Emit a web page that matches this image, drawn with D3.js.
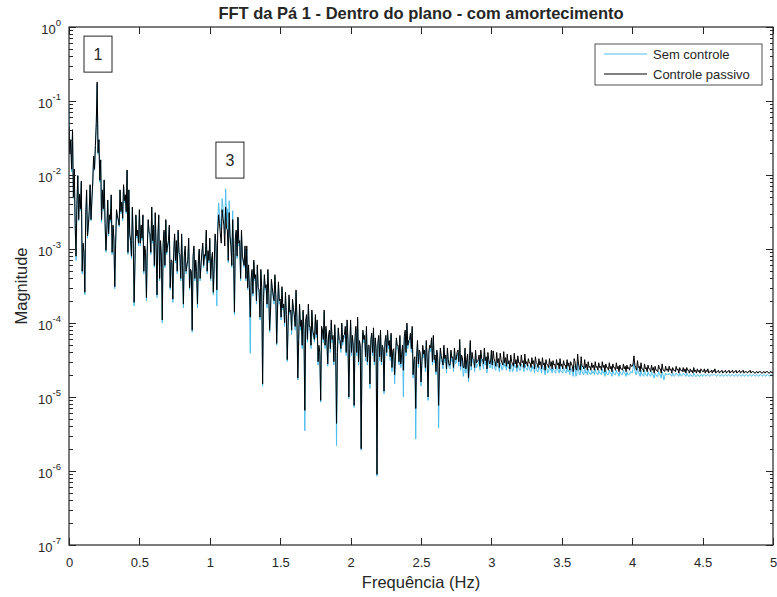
<!DOCTYPE html>
<html>
<head>
<meta charset="utf-8">
<script src="https://cdn.jsdelivr.net/npm/d3@7/dist/d3.min.js"></script>
<style>
body{margin:0;background:#fff;}
text{font-family:"Liberation Sans",Arial,sans-serif;fill:#262626;}
.axis path{display:none;}
.axis line{stroke:#262626;shape-rendering:crispEdges;}
</style>
</head>
<body>
<div id="content"></div>
<script>
//data
var freqStep = 0.0125; // Hz between the bins below, bin 0 = 0 Hz
// *Meio arrays hold the bins that sit half a step after each of those

var semControle = [
0.09,3e-2,4e-2,1.2e-2,7e-4,9.8e-3,5.5e-3,8e-3,1.1e-3,2.4e-4,6e-3,2e-3,7.2e-3,4.5e-3,1.8e-2,2.5e-2,1.7e-1,3e-2,1.6e-2,6e-3,8.5e-3,
9e-4,4.5e-3,2.8e-3,5.3e-3,2e-3,2.9e-4,3.3e-3,2.4e-3,6.2e-3,4.2e-3,7.3e-3,5.3e-3,1.15e-2,6.2e-3,1.2e-3,3.6e-3,1.7e-4,2.8e-3,1.7e-3,3.3e-3,
2e-3,2.8e-3,1e-3,2e-4,2.4e-3,1.5e-3,3.6e-3,2e-3,3e-3,2.2e-4,2.8e-3,1.2e-3,1e-4,1.7e-3,2.4e-3,1e-3,2e-3,6.5e-4,1.9e-4,1.5e-3,
1.2e-3,1.7e-3,7.8e-4,1.5e-3,1.6e-4,1e-3,5.7e-4,1.3e-3,5e-4,7.5e-5,1e-3,6.6e-4,1.6e-4,9.5e-4,5.7e-4,1.1e-3,8e-4,1.7e-3,9e-4,1.3e-3,
6.8e-4,2.4e-4,1.5e-3,1.7e-4,4.2e-3,2.2e-3,4.8e-3,3e-3,6.5e-3,3.5e-3,4.5e-3,1.4e-3,3.3e-3,1.3e-4,1.7e-3,2.6e-3,1.2e-3,1.7e-3,6.6e-4,1e-3,
1e-3,5.7e-4,3.9e-5,5e-4,6.6e-4,4.2e-4,5.7e-4,2.6e-4,5e-4,1.4e-5,4.2e-4,3.1e-4,5e-4,7.5e-5,3.6e-4,2.2e-4,4.2e-4,5e-5,3.4e-4,1.9e-4,
2.9e-4,1.7e-4,2.4e-4,3e-5,2.2e-4,1.4e-4,1.9e-4,1.2e-4,2.6e-4,1.7e-5,1.7e-4,1e-4,1.4e-4,3.5e-6,1.2e-4,1.7e-4,8.3e-5,1.4e-4,6.3e-5,1.2e-4,
1e-4,4.6e-5,8.5e-6,7.4e-5,1.4e-4,8.3e-5,2.6e-5,7.4e-5,1e-4,6.3e-5,8.8e-5,2.2e-6,8e-5,5.4e-5,9.3e-5,6.3e-5,8.3e-5,1e-4,9.5e-6,1e-4,
6.3e-5,7.2e-6,8.3e-5,1.1e-4,5.4e-5,1.9e-6,7.4e-5,6.3e-5,8.3e-5,4.6e-5,1.3e-5,6.8e-5,8e-5,5.8e-5,8.5e-7,6.3e-5,7.4e-5,4.6e-5,1.1e-5,6.3e-5,
7.4e-5,5.4e-5,6.8e-5,4e-5,1.5e-5,5.8e-5,4.6e-5,6.3e-5,3.4e-5,1e-5,7.4e-5,9.3e-5,5.4e-5,6.8e-5,8.3e-5,3e-5,2.7e-6,5.4e-5,4e-5,1.4e-5,
4.6e-5,4e-5,5.4e-5,9e-6,4.6e-5,5.8e-5,6.3e-5,3.4e-5,4e-5,3.8e-6,4.2e-5,2.9e-5,4.6e-5,3.4e-5,4.2e-5,2.5e-5,4e-5,3.2e-5,4.2e-5,2.9e-5,
3.9e-5,5.5e-5,3.4e-5,1.9e-5,4.2e-5,2.9e-5,1.6e-5,5.3e-5,3.6e-5,2.9e-5,3.9e-5,2.7e-5,3.3e-5,3.8e-5,2.8e-5,4e-5,3.1e-5,3.5e-5,2.5e-5,3.8e-5,
3.1e-5,2.4e-5,3.2e-5,2.6e-5,2.9e-5,2.3e-5,3.1e-5,2.7e-5,3e-5,2.5e-5,2.8e-5,2.2e-5,2.9e-5,2.6e-5,2.7e-5,2.3e-5,2.8e-5,2.5e-5,2.9e-5,2.4e-5,
2.7e-5,2.3e-5,2.7e-5,2.5e-5,2.8e-5,2.2e-5,2.6e-5,2.4e-5,2.7e-5,2.3e-5,2.6e-5,2.1e-5,2.6e-5,2.4e-5,2.5e-5,2.2e-5,2.6e-5,2.3e-5,2.6e-5,2.2e-5,
2.5e-5,2.2e-5,2.6e-5,2.3e-5,2.4e-5,2.1e-5,2.6e-5,1.9e-5,3e-5,2e-5,2.8e-5,2.1e-5,2.6e-5,2.2e-5,2.4e-5,2.1e-5,2.3e-5,2.2e-5,2.4e-5,2.1e-5,
2.3e-5,2.1e-5,2.4e-5,2.2e-5,2.3e-5,2e-5,2.3e-5,2.1e-5,2.3e-5,2e-5,2.3e-5,2.1e-5,2.2e-5,2e-5,2.3e-5,2.1e-5,2.2e-5,2e-5,2.2e-5,2.1e-5,
2.9e-5,2e-5,2.5e-5,2.1e-5,2.3e-5,2e-5,2.3e-5,2e-5,2.2e-5,2e-5,2.2e-5,2e-5,2.1e-5,1.9e-5,2.2e-5,2e-5,2.2e-5,1.7e-5,2.1e-5,2e-5,
2.1e-5,2e-5,2.1e-5,1.9e-5,2.1e-5,2e-5,2.1e-5,1.9e-5,2.1e-5,2e-5,2.1e-5,1.9e-5,2e-5,1.9e-5,2.1e-5,1.9e-5,2e-5,1.9e-5,2e-5,1.9e-5,
2e-5,1.9e-5,2e-5,1.9e-5,2e-5,2e-5,2e-5,1.9e-5,2e-5,1.9e-5,2e-5,1.9e-5,2e-5,1.9e-5,2e-5,1.9e-5,2e-5,1.9e-5,2e-5,1.9e-5,
2e-5,1.9e-5,2e-5,1.9e-5,2e-5,1.9e-5,2e-5,1.9e-5,2e-5,1.9e-5,2e-5,1.9e-5,2e-5,1.9e-5,2e-5,1.9e-5,2e-5,1.9e-5,2e-5,2e-5
];

var semControleMeio = [
1.9e-2,1.1e-2,4.8e-3,2e-3,3.8e-3,2.4e-3,3.3e-3,4.6e-4,8.5e-4,2.6e-3,1.4e-3,3.1e-3,2.4e-3,7.6e-3,1.15e-2,4.8e-2,1.9e-2,8e-3,2.3e-3,3.3e-3,
2e-3,1.7e-3,1.5e-3,2.3e-3,8.4e-4,1.3e-3,1.1e-3,2.6e-3,2e-3,3e-3,2.4e-3,4.2e-3,3e-3,8.4e-4,1.5e-3,7.4e-4,1.2e-3,6.5e-4,1.4e-3,1.1e-3,
1.1e-3,1.3e-3,4.6e-4,8.4e-4,1e-3,1.6e-3,8.4e-4,1.2e-3,5.6e-4,1e-3,1.4e-3,3.7e-4,7.4e-4,1.1e-3,5.6e-4,8.4e-4,1.2e-3,2.8e-4,6.5e-4,8.4e-4,
6.5e-4,4.6e-4,8.4e-4,3.7e-4,5.6e-4,7.4e-4,4.6e-4,6.5e-4,2.8e-4,4.6e-4,7.4e-4,3.7e-4,4.6e-4,6.5e-4,3.7e-4,8.4e-4,5.6e-4,7.4e-4,4.6e-4,6.5e-4,
3.7e-4,8.4e-4,5.6e-4,1.1e-3,2.5e-3,3e-3,1.8e-3,3.6e-3,1.6e-3,2.4e-3,6.5e-4,1.4e-3,5.6e-4,8.4e-4,1.3e-3,7.4e-4,1.1e-3,3.7e-4,7.4e-4,5.6e-4,
3.7e-4,2.8e-4,2.8e-4,3.7e-4,2.3e-4,3.7e-4,1.8e-4,2.8e-4,1.1e-4,2.8e-4,1.8e-4,2.8e-4,1.6e-4,2.3e-4,1.4e-4,2.8e-4,1.8e-4,2.2e-4,1.5e-4,1.8e-4,
1.1e-4,1.5e-4,9e-5,1.2e-4,9e-5,1.3e-4,7e-5,1.5e-4,8e-5,1.1e-4,5.5e-5,8e-5,4.5e-5,7e-5,1e-4,5.5e-5,8e-5,4.5e-5,7e-5,5.5e-5,
6.3e-5,2.7e-5,3.6e-5,8e-5,5.4e-5,4.5e-5,5.4e-5,6.3e-5,4e-5,5.4e-5,2.7e-5,4.5e-5,3.6e-5,5.4e-5,4e-5,5e-5,6.3e-5,3.6e-5,5.4e-5,4e-5,
3.6e-5,4.5e-5,5.8e-5,3.6e-5,2.7e-5,4.5e-5,4e-5,5.4e-5,3.1e-5,2.7e-5,4.5e-5,5.4e-5,3.6e-5,2.7e-5,4e-5,5e-5,3.1e-5,2.7e-5,4e-5,5e-5,
3.6e-5,4.5e-5,3.1e-5,2.2e-5,4e-5,3.1e-5,4.5e-5,2.7e-5,2.5e-5,4.5e-5,5.8e-5,3.6e-5,4.5e-5,5.4e-5,4e-5,1.8e-5,3.1e-5,3.1e-5,2.5e-5,3.6e-5,
2.7e-5,3.4e-5,2.2e-5,3e-5,3.8e-5,4.1e-5,2.7e-5,2.9e-5,2e-5,3e-5,2.3e-5,3.2e-5,2.4e-5,2.9e-5,2.1e-5,2.8e-5,2.4e-5,3e-5,2.2e-5,2.8e-5,
3.5e-5,2.6e-5,2.3e-5,3e-5,2.2e-5,2.1e-5,3.4e-5,2.7e-5,2.3e-5,2.9e-5,2.2e-5,2.5e-5,2.8e-5,2.3e-5,2.9e-5,2.4e-5,2.7e-5,2.1e-5,2.8e-5,2.5e-5,
2.4e-5,2.8e-5,2.3e-5,2.6e-5,2.2e-5,2.7e-5,2.4e-5,2.6e-5,2.3e-5,2.5e-5,2.2e-5,2.6e-5,2.3e-5,2.5e-5,2.2e-5,2.6e-5,2.3e-5,2.6e-5,2.2e-5,2.5e-5,
2.3e-5,2.5e-5,2.2e-5,2.4e-5,2.1e-5,2.5e-5,2.2e-5,2.4e-5,2.1e-5,2.4e-5,2e-5,2.4e-5,2.2e-5,2.3e-5,2.1e-5,2.3e-5,2.1e-5,2.3e-5,2.1e-5,2.2e-5,
2.1e-5,2.3e-5,2.1e-5,2.2e-5,2e-5,2.4e-5,1.9e-5,2.6e-5,2e-5,2.4e-5,2e-5,2.2e-5,2e-5,2.1e-5,2e-5,2.1e-5,2e-5,2.1e-5,2e-5,2.1e-5,
2e-5,2.1e-5,2e-5,2.1e-5,1.9e-5,2.1e-5,2e-5,2.1e-5,1.9e-5,2.1e-5,2e-5,2.1e-5,1.9e-5,2.1e-5,2e-5,2.1e-5,1.9e-5,2e-5,2e-5,2.2e-5,
2.4e-5,2.3e-5,2e-5,2.1e-5,1.9e-5,2e-5,1.9e-5,2e-5,1.9e-5,2e-5,1.9e-5,2e-5,1.8e-5,2e-5,1.9e-5,2e-5,1.8e-5,2e-5,1.9e-5,2e-5,
2e-5,2e-5,1.9e-5,2e-5,2e-5,2e-5,1.9e-5,2e-5,2e-5,2e-5,1.9e-5,2e-5,1.9e-5,2e-5,1.9e-5,2e-5,1.9e-5,2e-5,1.9e-5,2e-5,
2e-5,1.95e-5,2e-5,1.95e-5,2e-5,1.95e-5,2e-5,1.95e-5,2e-5,1.95e-5,2e-5,1.95e-5,2e-5,1.95e-5,2e-5,1.95e-5,2e-5,1.95e-5,2e-5,1.95e-5,
2e-5,1.95e-5,2e-5,1.95e-5,2e-5,1.95e-5,2e-5,1.95e-5,2e-5,1.95e-5,2e-5,1.95e-5,2e-5,1.95e-5,2e-5,1.95e-5,2e-5,1.95e-5,2e-5,1.95e-5
];

var controlePassivo = [
4.5e-2,3e-2,4.1e-2,1.2e-2,8e-4,9.8e-3,5.5e-3,8.3e-3,1.2e-3,2.6e-4,6.3e-3,2.1e-3,7.4e-3,4.6e-3,1.8e-2,2.5e-2,1.8e-1,3e-2,1.6e-2,6.3e-3,8.6e-3,
9.6e-4,4.6e-3,2.9e-3,5.4e-3,2.1e-3,3.1e-4,3.4e-3,2.5e-3,6.3e-3,4.3e-3,7.4e-3,5.4e-3,1.17e-2,6.3e-3,1.3e-3,3.7e-3,1.9e-4,2.9e-3,1.8e-3,3.4e-3,
2.1e-3,2.9e-3,1.1e-3,2.2e-4,2.5e-3,1.6e-3,3.7e-3,2.1e-3,3.1e-3,2.4e-4,2.9e-3,1.3e-3,1.1e-4,1.8e-3,2.5e-3,1.1e-3,2.1e-3,7.1e-4,2.1e-4,1.6e-3,
1.3e-3,1.8e-3,8.4e-4,1.6e-3,1.8e-4,1.1e-3,6.1e-4,1.4e-3,5.3e-4,8e-5,1.1e-3,7.1e-4,1.8e-4,1e-3,6.1e-4,1.2e-3,8.4e-4,1.8e-3,9.5e-4,1.4e-3,
7.1e-4,2.6e-4,1.6e-3,2.8e-4,2.9e-3,1.6e-3,3.4e-3,2.1e-3,3.7e-3,1.8e-3,3.1e-3,1.1e-3,2.5e-3,1.4e-4,1.8e-3,2.7e-3,1.3e-3,1.8e-3,7.1e-4,1.1e-3,
1.1e-3,6.1e-4,1.2e-4,5.3e-4,7.1e-4,4.5e-4,6.1e-4,2.8e-4,5.3e-4,1.5e-5,4.5e-4,3.3e-4,5.3e-4,8e-5,3.9e-4,2.4e-4,4.5e-4,5.3e-5,3.6e-4,2.1e-4,
3.1e-4,1.8e-4,2.6e-4,3.2e-5,2.4e-4,1.5e-4,2.1e-4,1.3e-4,2.8e-4,1.8e-5,1.8e-4,1.1e-4,1.5e-4,6.6e-6,1.3e-4,1.8e-4,9e-5,1.5e-4,6.8e-5,1.3e-4,
1.1e-4,5e-5,9e-6,8e-5,1.5e-4,9e-5,2.8e-5,8e-5,1.1e-4,6.8e-5,9.5e-5,4.4e-6,8.6e-5,5.8e-5,1e-4,6.8e-5,9e-5,1.1e-4,1e-5,1.1e-4,
6.8e-5,7.7e-6,9e-5,1.2e-4,5.8e-5,2e-6,8e-5,6.8e-5,9e-5,5e-5,1.5e-5,7.3e-5,8.6e-5,6.3e-5,9e-7,6.8e-5,8e-5,5e-5,1.2e-5,6.8e-5,
8e-5,5.8e-5,7.3e-5,4.3e-5,2e-5,6.3e-5,5e-5,6.8e-5,3.7e-5,2.3e-5,8e-5,1e-4,5.8e-5,7.3e-5,9e-5,3.2e-5,7e-6,5.8e-5,4.3e-5,1.6e-5,
5e-5,4.3e-5,5.8e-5,1e-5,5e-5,6.3e-5,6.8e-5,3.7e-5,4.3e-5,7.7e-6,4.6e-5,3.2e-5,5e-5,3.7e-5,4.6e-5,2.7e-5,4.3e-5,3.5e-5,4.6e-5,3.2e-5,
4.3e-5,6e-5,3.7e-5,2.5e-5,4.6e-5,3.2e-5,1.8e-5,5.8e-5,4e-5,3.2e-5,4.3e-5,3e-5,3.7e-5,4.3e-5,3.2e-5,4.6e-5,3.5e-5,4e-5,2.8e-5,4.3e-5,
4.2e-5,3e-5,4e-5,3.3e-5,3.9e-5,2.9e-5,4.1e-5,3.4e-5,3.8e-5,3.1e-5,3.7e-5,2.8e-5,3.9e-5,3.2e-5,3.6e-5,2.9e-5,3.7e-5,3.1e-5,3.8e-5,3e-5,
3.3e-5,2.9e-5,3.4e-5,3.1e-5,3.5e-5,2.8e-5,3.3e-5,3e-5,3.4e-5,2.9e-5,3.2e-5,2.7e-5,3.3e-5,3e-5,3.1e-5,2.8e-5,3.2e-5,2.9e-5,3.3e-5,2.8e-5,
3.1e-5,2.7e-5,3.2e-5,2.9e-5,3e-5,2.6e-5,3.3e-5,2.4e-5,3.8e-5,2.5e-5,3.5e-5,2.6e-5,3.2e-5,2.8e-5,3e-5,2.6e-5,2.9e-5,2.7e-5,3e-5,2.6e-5,
2.9e-5,2.6e-5,3e-5,2.7e-5,2.8e-5,2.5e-5,2.9e-5,2.6e-5,2.8e-5,2.5e-5,2.9e-5,2.6e-5,2.7e-5,2.4e-5,2.8e-5,2.6e-5,2.7e-5,2.5e-5,2.8e-5,2.6e-5,
3.6e-5,2.5e-5,3.1e-5,2.6e-5,2.9e-5,2.4e-5,2.8e-5,2.5e-5,2.7e-5,2.4e-5,2.7e-5,2.5e-5,2.6e-5,2.3e-5,2.7e-5,2.4e-5,2.8e-5,2.3e-5,2.6e-5,2.4e-5,
2.6e-5,2.4e-5,2.5e-5,2.3e-5,2.6e-5,2.4e-5,2.5e-5,2.3e-5,2.5e-5,2.4e-5,2.5e-5,2.3e-5,2.4e-5,2.3e-5,2.5e-5,2.3e-5,2.4e-5,2.3e-5,2.4e-5,2.2e-5,
2.4e-5,2.3e-5,2.4e-5,2.2e-5,2.3e-5,2.3e-5,2.4e-5,2.2e-5,2.3e-5,2.2e-5,2.3e-5,2.2e-5,2.3e-5,2.2e-5,2.3e-5,2.2e-5,2.3e-5,2.2e-5,2.3e-5,2.2e-5,
2.3e-5,2.2e-5,2.3e-5,2.2e-5,2.2e-5,2.2e-5,2.3e-5,2.2e-5,2.2e-5,2.1e-5,2.2e-5,2.2e-5,2.2e-5,2.1e-5,2.2e-5,2.2e-5,2.2e-5,2.1e-5,2.2e-5,2.2e-5
];

var controlePassivoMeio = [
2e-2,1.2e-2,5e-3,2.2e-3,4e-3,2.5e-3,3.5e-3,5e-4,9e-4,2.8e-3,1.5e-3,3.3e-3,2.5e-3,8e-3,1.2e-2,5e-2,2e-2,8.5e-3,2.5e-3,3.5e-3,
2.2e-3,1.8e-3,1.6e-3,2.5e-3,9e-4,1.4e-3,1.2e-3,2.8e-3,2.1e-3,3.2e-3,2.6e-3,4.5e-3,3.2e-3,9e-4,1.6e-3,8e-4,1.3e-3,7e-4,1.5e-3,1.2e-3,
1.2e-3,1.4e-3,5e-4,9e-4,1.1e-3,1.7e-3,9e-4,1.3e-3,6e-4,1.1e-3,1.5e-3,4e-4,8e-4,1.2e-3,6e-4,9e-4,1.3e-3,3e-4,7e-4,9e-4,
7e-4,5e-4,9e-4,4e-4,6e-4,8e-4,5e-4,7e-4,3e-4,5e-4,8e-4,4e-4,5e-4,7e-4,4e-4,9e-4,6e-4,8e-4,5e-4,7e-4,
4e-4,9e-4,6e-4,1.2e-3,1.7e-3,2.2e-3,1.2e-3,2.6e-3,1.1e-3,1.9e-3,7e-4,1.5e-3,6e-4,9e-4,1.4e-3,8e-4,1.2e-3,4e-4,8e-4,6e-4,
4e-4,3e-4,3e-4,4e-4,2.5e-4,4e-4,2e-4,3e-4,1.2e-4,3e-4,2e-4,3e-4,1.8e-4,2.5e-4,1.5e-4,3e-4,2e-4,2.4e-4,1.6e-4,2e-4,
1.2e-4,1.6e-4,1e-4,1.3e-4,1e-4,1.4e-4,8e-5,1.6e-4,9e-5,1.2e-4,6e-5,9e-5,5e-5,8e-5,1.1e-4,6e-5,9e-5,5e-5,8e-5,6e-5,
7e-5,3e-5,4e-5,9e-5,6e-5,5e-5,6e-5,7e-5,4.5e-5,6e-5,3e-5,5e-5,4e-5,6e-5,4.5e-5,5.5e-5,7e-5,4e-5,6e-5,4.5e-5,
4e-5,5e-5,6.5e-5,4e-5,3e-5,5e-5,4.5e-5,6e-5,3.5e-5,3e-5,5e-5,6e-5,4e-5,3e-5,4.5e-5,5.5e-5,3.5e-5,3e-5,4.5e-5,5.5e-5,
4e-5,5e-5,3.5e-5,2.5e-5,4.5e-5,3.5e-5,5e-5,3e-5,2.8e-5,5e-5,6.5e-5,4e-5,5e-5,6e-5,4.5e-5,2e-5,3.5e-5,3.5e-5,2.8e-5,4e-5,
3e-5,3.8e-5,2.5e-5,3.4e-5,4.2e-5,4.6e-5,3e-5,3.2e-5,2.2e-5,3.4e-5,2.6e-5,3.6e-5,2.7e-5,3.3e-5,2.4e-5,3.2e-5,2.7e-5,3.4e-5,2.5e-5,3.2e-5,
4e-5,3e-5,2.6e-5,3.4e-5,2.5e-5,2.4e-5,3.8e-5,3.1e-5,2.6e-5,3.3e-5,2.5e-5,2.9e-5,3.2e-5,2.6e-5,3.3e-5,2.8e-5,3.1e-5,2.4e-5,3.2e-5,2.9e-5,
2.7e-5,3.3e-5,2.6e-5,2.9e-5,2.5e-5,3.2e-5,2.7e-5,2.9e-5,2.6e-5,2.8e-5,2.4e-5,3e-5,2.6e-5,2.8e-5,2.5e-5,2.9e-5,2.6e-5,2.9e-5,2.5e-5,2.8e-5,
2.6e-5,2.9e-5,2.5e-5,2.8e-5,2.4e-5,2.9e-5,2.5e-5,2.7e-5,2.4e-5,2.7e-5,2.3e-5,2.8e-5,2.5e-5,2.6e-5,2.4e-5,2.7e-5,2.4e-5,2.7e-5,2.4e-5,2.6e-5,
2.4e-5,2.7e-5,2.4e-5,2.6e-5,2.3e-5,2.8e-5,2.2e-5,3e-5,2.3e-5,2.8e-5,2.3e-5,2.6e-5,2.4e-5,2.5e-5,2.3e-5,2.5e-5,2.3e-5,2.5e-5,2.3e-5,2.5e-5,
2.3e-5,2.5e-5,2.3e-5,2.5e-5,2.2e-5,2.5e-5,2.3e-5,2.4e-5,2.2e-5,2.5e-5,2.3e-5,2.4e-5,2.2e-5,2.4e-5,2.3e-5,2.4e-5,2.2e-5,2.4e-5,2.3e-5,2.6e-5,
2.8e-5,2.7e-5,2.3e-5,2.5e-5,2.2e-5,2.4e-5,2.2e-5,2.4e-5,2.2e-5,2.4e-5,2.2e-5,2.3e-5,2.1e-5,2.3e-5,2.2e-5,2.4e-5,2.1e-5,2.3e-5,2.2e-5,2.3e-5,
2.2e-5,2.3e-5,2.1e-5,2.3e-5,2.2e-5,2.3e-5,2.1e-5,2.3e-5,2.2e-5,2.2e-5,2.1e-5,2.3e-5,2.1e-5,2.2e-5,2.1e-5,2.2e-5,2.1e-5,2.2e-5,2.1e-5,2.3e-5,
2.2e-5,2.1e-5,2.2e-5,2.1e-5,2.2e-5,2.1e-5,2.2e-5,2.1e-5,2.2e-5,2.1e-5,2.2e-5,2.1e-5,2.2e-5,2.1e-5,2.2e-5,2.1e-5,2.2e-5,2.1e-5,2.2e-5,2.1e-5,
2.2e-5,2.1e-5,2.2e-5,2.1e-5,2.2e-5,2.1e-5,2.2e-5,2.1e-5,2.2e-5,2.1e-5,2.2e-5,2.1e-5,2.2e-5,2.1e-5,2.2e-5,2.1e-5,2.2e-5,2.1e-5,2.2e-5,2.1e-5
];

var xTicks = [0,0.5,1,1.5,2,2.5,3,3.5,4,4.5,5];
var yTicks = [1e-7,1e-6,1e-5,1e-4,1e-3,1e-2,1e-1,1];
var yTickExp = ["-7","-6","-5","-4","-3","-2","-1","0"];
var seriesNames = ["Sem controle","Controle passivo"];
var seriesColors = ["#4DBEEE","#000000"];
var peakText = ["1","3"];
var peakFreq = [0.206,1.143];
var peakMag = [0.43,0.0159];

//layout
var W = 777, H = 597;
var pLeft = 69, pRight = 773, pTop = 27, pBottom = 545;

var svg = d3.select("#content").append("svg")
    .attr("width", W)
    .attr("height", H);

var x = d3.scaleLinear().domain([0,5]).range([pLeft,pRight]);
var y = d3.scaleLog().domain([1e-7,1]).range([pBottom,pTop]);

//put the two bin grids of a series back in frequency order
function joinBins(a, b){
    var pts = a.map(function(v,i){ return [i*freqStep, v]; })
        .concat(b.map(function(v,i){ return [(i+0.5)*freqStep, v]; }));
    return pts.sort(function(p,q){ return p[0]-q[0]; });
}
var series = [joinBins(semControle, semControleMeio), joinBins(controlePassivo, controlePassivoMeio)];

svg.append("defs").append("clipPath").attr("id","plotclip")
    .append("rect").attr("x",pLeft).attr("y",pTop).attr("width",pRight-pLeft).attr("height",pBottom-pTop);

//series lines
var line = d3.line()
    .x(function(d){ return x(d[0]); })
    .y(function(d){ return y(d[1]); });

series.forEach(function(s,k){
    svg.append("path")
        .attr("d", line(s))
        .attr("fill","none")
        .attr("stroke", seriesColors[k])
        .attr("stroke-width", 1)
        .attr("clip-path","url(#plotclip)");
});

//axes (ticks inside, like matlab)
var minor = y.ticks().filter(function(t){ return yTicks.indexOf(t) == -1; });

svg.append("g").attr("class","axis").attr("transform","translate(0,"+pBottom+")")
    .call(d3.axisBottom(x).tickValues(xTicks).tickSize(-7).tickPadding(13).tickFormat(function(d){ return d; }))
    .selectAll("text").attr("font-size","13px").attr("fill","#262626").attr("font-family",null);
svg.append("g").attr("class","axis").attr("transform","translate(0,"+pTop+")")
    .call(d3.axisTop(x).tickValues(xTicks).tickSize(-7).tickFormat(""));
svg.append("g").attr("class","axis").attr("transform","translate("+pLeft+",0)")
    .call(d3.axisLeft(y).tickValues(yTicks).tickSize(-7).tickFormat(""));
svg.append("g").attr("class","axis").attr("transform","translate("+pLeft+",0)")
    .call(d3.axisLeft(y).tickValues(minor).tickSize(-3.5).tickFormat(""));
svg.append("g").attr("class","axis").attr("transform","translate("+pRight+",0)")
    .call(d3.axisRight(y).tickValues(yTicks).tickSize(-7).tickFormat(""));
svg.append("g").attr("class","axis").attr("transform","translate("+pRight+",0)")
    .call(d3.axisRight(y).tickValues(minor).tickSize(-3.5).tickFormat(""));

//y tick labels 10^n
yTicks.forEach(function(t,i){
    var tx = svg.append("text")
        .attr("x", pLeft-8)
        .attr("y", y(t)+7)
        .attr("text-anchor","end")
        .attr("font-size","13px");
    tx.append("tspan").text("10");
    tx.append("tspan").attr("dy",-8).attr("font-size","9.5px").text(yTickExp[i]);
});

//box
svg.append("rect")
    .attr("x",pLeft).attr("y",pTop).attr("width",pRight-pLeft).attr("height",pBottom-pTop)
    .attr("fill","none").attr("stroke","#262626").attr("stroke-width",1.2);

//title and labels
svg.append("text").attr("x",(pLeft+pRight)/2).attr("y",19).attr("text-anchor","middle")
    .attr("font-size","16.5px").attr("font-weight","bold").attr("fill","#000")
    .text("FFT da Pá 1 - Dentro do plano - com amortecimento");
svg.append("text").attr("x",(pLeft+pRight)/2).attr("y",588).attr("text-anchor","middle")
    .attr("font-size","16.5px")
    .text("Frequência (Hz)");
svg.append("text").attr("transform","translate(27,"+((pTop+pBottom)/2)+") rotate(-90)")
    .attr("text-anchor","middle").attr("font-size","16.5px")
    .text("Magnitude");

//peak annotations
peakText.forEach(function(t,i){
    var cx = x(peakFreq[i]), cy = y(peakMag[i]);
    svg.append("rect").attr("x",cx-14).attr("y",cy-18).attr("width",28).attr("height",36)
        .attr("fill","#fff").attr("stroke","#262626").attr("stroke-width",1);
    svg.append("text").attr("x",cx).attr("y",cy+6).attr("text-anchor","middle")
        .attr("font-size","16px").attr("fill","#000").text(t);
});

//legend
var lg = svg.append("g").attr("transform","translate(595,44)");
lg.append("rect").attr("width",167).attr("height",41)
    .attr("fill","#fff").attr("stroke","#262626").attr("stroke-width",0.8);
seriesNames.forEach(function(n,i){
    lg.append("line").attr("x1",9).attr("x2",52).attr("y1",10+i*20).attr("y2",10+i*20)
        .attr("stroke",seriesColors[i]).attr("stroke-width",1);
    lg.append("text").attr("x",58).attr("y",15+i*20).attr("font-size","13px").attr("fill","#000").text(n);
});
</script>
</body>
</html>
